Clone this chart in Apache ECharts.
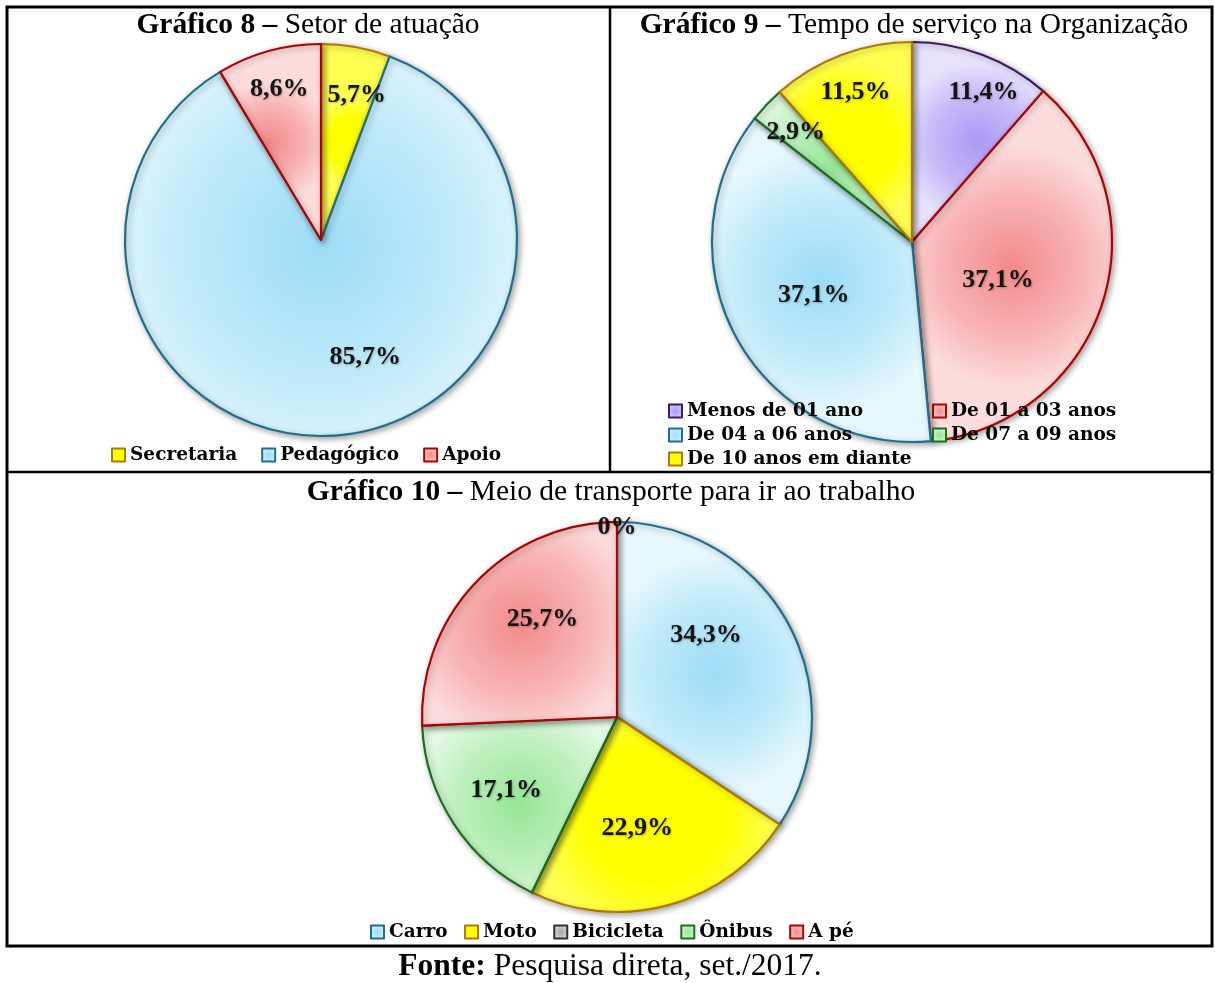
<!DOCTYPE html>
<html>
<head>
<meta charset="utf-8">
<script src="https://cdn.jsdelivr.net/npm/echarts@6/dist/echarts.min.js"></script>
<style>
html,body{margin:0;padding:0;background:#fff;}
#chart{width:1215px;height:983px;}
</style>
</head>
<body>
<div id="chart"></div>
<script>
// ---- DATA ----
const title8Bold = 'Gráfico 8 –';
const title8Text = ' Setor de atuação';
const chart8Categories = ['Secretaria', 'Pedagógico', 'Apoio'];
const chart8Values = [5.7, 85.7, 8.6];

const title9Bold = 'Gráfico 9 –';
const title9Text = ' Tempo de serviço na Organização';
const chart9Categories = ['Menos de 01 ano', 'De 01 a 03 anos', 'De 04 a 06 anos', 'De 07 a 09 anos', 'De 10 anos em diante'];
const chart9Values = [11.4, 37.1, 37.1, 2.9, 11.5];

const title10Bold = 'Gráfico 10 –';
const title10Text = ' Meio de transporte para ir ao trabalho';
const chart10Categories = ['Carro', 'Moto', 'Bicicleta', 'Ônibus', 'A pé'];
const chart10Values = [34.3, 22.9, 0, 17.1, 25.7];

const sourceBold = 'Fonte:';
const sourceText = ' Pesquisa direta, set./2017.';

// ---- STYLE ----
const SERIF = '"Liberation Serif", "DejaVu Serif", serif';
const LEGEND_FONT = '"DejaVu Serif", "Liberation Serif", serif';
const palettes = {
  yellow: {c0: '#ffff00', c1: '#ffff00', c2: '#ffff50', b: '#b07800'},
  blue:   {c0: '#9cdcf6', c1: '#c0eafa', c2: '#e6f7fd', b: '#1f6f8f'},
  red:    {c0: '#f38a8a', c1: '#f8b5b5', c2: '#fddcdc', b: '#b00000'},
  purple: {c0: '#ad98f5', c1: '#c9bbf8', c2: '#e8e2fc', b: '#3f1a5e'},
  green:  {c0: '#96e596', c1: '#bff0bf', c2: '#e4f9e4', b: '#1a701a'},
  grey:   {c0: '#a8a8a8', c1: '#c8c8c8', c2: '#e6e6e6', b: '#303030'}
};
const colors8 = ['yellow', 'blue', 'red'];
const colors9 = ['purple', 'red', 'blue', 'green', 'yellow'];
const colors10 = ['blue', 'yellow', 'grey', 'green', 'red'];

function fill(p) {
  return new echarts.graphic.RadialGradient(0.5, 0.5, 0.6, [
    {offset: 0, color: p.c0},
    {offset: 0.6, color: p.c1},
    {offset: 1, color: p.c2}
  ]);
}

function fmt(v) {
  return v === 0 ? '0%' : v.toFixed(1).replace('.', ',') + '%';
}

// label placement style: [radius ratio, angle shift in degrees]
function makeSeries(cats, vals, colorKeys, cx, cy, radius, place) {
  return {
    type: 'pie',
    center: [cx, cy],
    radius: radius,
    startAngle: 90,
    clockwise: true,
    avoidLabelOverlap: false,
    animation: false,
    silent: true,
    data: cats.map((c, i) => ({
      name: c,
      value: vals[i],
      itemStyle: {
        color: fill(palettes[colorKeys[i]]),
        borderColor: palettes[colorKeys[i]].b,
        borderWidth: 2.2
      }
    })),
    itemStyle: {
      shadowBlur: 6,
      shadowOffsetX: 2,
      shadowOffsetY: 2,
      shadowColor: 'rgba(0,0,0,0.35)'
    },
    label: {
      show: true,
      position: 'inside',
      formatter: p => fmt(p.value),
      fontFamily: SERIF,
      fontWeight: 'bold',
      fontSize: 26,
      color: '#141414',
      textShadowColor: 'rgba(0,0,0,0.25)',
      textShadowBlur: 2,
      textShadowOffsetX: 1,
      textShadowOffsetY: 1
    },
    labelLine: {show: false},
    labelLayout: function (p) {
      const i = p.dataIndex;
      if (vals[i] === 0) {
        return {x: cx, y: cy - radius + 5};
      }
      const lr = p.labelRect;
      const mx = lr.x + lr.width / 2, my = lr.y + lr.height / 2;
      const ang = Math.atan2(my - cy, mx - cx) + place[i][1] * Math.PI / 180;
      const t = place[i][0] * radius;
      return {x: cx + Math.cos(ang) * t, y: cy + Math.sin(ang) * t};
    }
  };
}

const legendText = {
  fontFamily: LEGEND_FONT,
  fontWeight: 'bold',
  fontSize: 18.5,
  lineHeight: 20,
  color: '#000'
};

function titleText(x, y, bold, normal, size) {
  return {
    type: 'text',
    x: x, y: y,
    z: 10,
    style: {
      text: '{b|' + bold + '}{n|' + normal + '}',
      align: 'center',
      verticalAlign: 'middle',
      rich: {
        b: {fontFamily: SERIF, fontWeight: 'bold', fontSize: size, fill: '#000'},
        n: {fontFamily: SERIF, fontWeight: 'normal', fontSize: size, fill: '#000'}
      }
    }
  };
}

const legendBase = {
  itemWidth: 13, itemHeight: 13,
  icon: 'rect',
  padding: 0,
  textStyle: legendText,
  selectedMode: false
};

const chart = echarts.init(document.getElementById('chart'), null, {renderer: 'canvas'});
chart.setOption({
  backgroundColor: '#fff',
  animation: false,
  legend: [
    Object.assign({}, legendBase, {
      data: chart8Categories,
      left: 111, top: 445, itemGap: 24
    }),
    Object.assign({}, legendBase, {
      data: [chart9Categories[0], chart9Categories[2], chart9Categories[4]],
      orient: 'vertical',
      left: 668, top: 401, itemGap: 4
    }),
    Object.assign({}, legendBase, {
      data: [chart9Categories[1], chart9Categories[3]],
      orient: 'vertical',
      left: 932, top: 401, itemGap: 4
    }),
    Object.assign({}, legendBase, {
      data: chart10Categories,
      left: 370, top: 922, itemGap: 16.5
    })
  ],
  series: [
    makeSeries(chart8Categories, chart8Values, colors8, 321, 240, 196,
      [[0.76, 3.6], [0.64, -15.4], [0.8, 0]]),
    makeSeries(chart9Categories, chart9Values, colors9, 912, 242, 200,
      [[0.83, 5], [0.47, 6], [0.56, 0], [0.8, 0], [0.8, 0]]),
    makeSeries(chart10Categories, chart10Values, colors10, 617, 717, 195,
      [[0.62, -14.4], [0.58, 5], [0.5, 0], [0.68, 0], [0.63, 9]])
  ],
  graphic: [
    {type: 'rect', z: 0, shape: {x: 7, y: 7, width: 1205, height: 939}, style: {fill: 'none', stroke: '#000', lineWidth: 3}},
    {type: 'line', z: 0, shape: {x1: 610, y1: 7, x2: 610, y2: 472}, style: {stroke: '#000', lineWidth: 2.5}},
    {type: 'line', z: 0, shape: {x1: 7, y1: 472, x2: 1212, y2: 472}, style: {stroke: '#000', lineWidth: 2.5}},
    titleText(308, 25, title8Bold, title8Text, 29.5),
    titleText(914, 25, title9Bold, title9Text, 29.5),
    titleText(611, 492, title10Bold, title10Text, 29.5),
    titleText(610, 967, sourceBold, sourceText, 31.5)
  ]
});
</script>
</body>
</html>
